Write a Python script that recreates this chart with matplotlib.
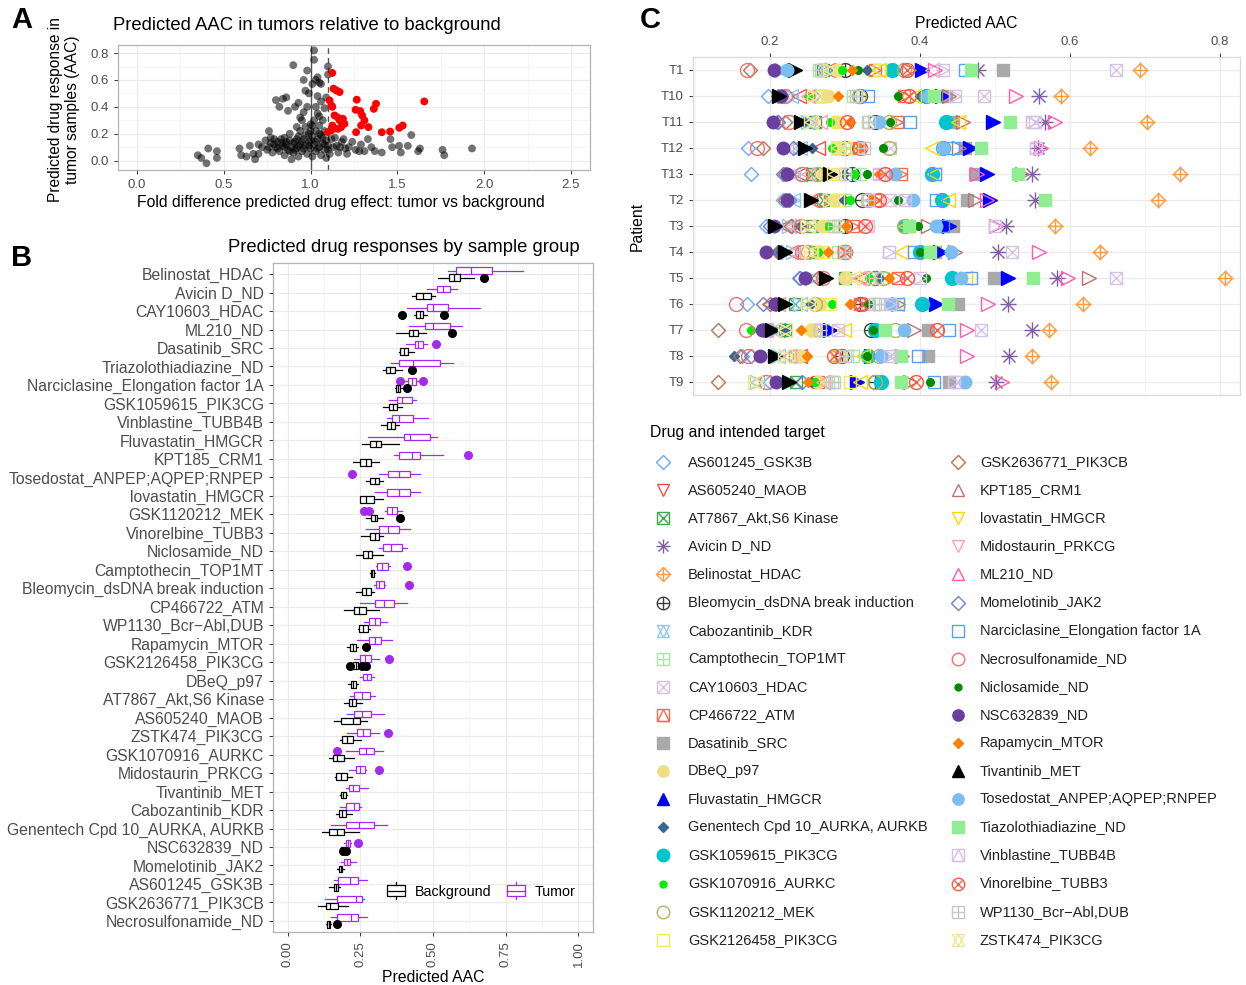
import numpy as np
import matplotlib
matplotlib.use("Agg")
import matplotlib.pyplot as plt
from matplotlib.legend_handler import HandlerBase
from matplotlib.patches import Rectangle
from matplotlib.lines import Line2D

plt.rcParams["font.family"] = ["Liberation Sans", "DejaVu Sans"]

W, H = 1246, 985
TICK = "#4d4d4d"
GRID = "#ebebeb"
PURPLE = "#a52af0"

# ---------------- panel A data: (fold difference, tumor AAC) ----------------
a_gray_x = [0.35, 0.37, 0.40, 0.41, 0.46, 0.46, 0.59, 0.60, 0.63, 0.65, 0.67, 0.68, 0.70, 0.70,
            0.72, 0.74, 0.75, 0.76, 0.77, 0.78, 0.79, 0.80, 0.80, 0.81, 0.82, 0.83, 0.84, 0.84,
            0.85, 0.85, 0.86, 0.86, 0.87, 0.87, 0.88, 0.88, 0.89, 0.89, 0.90, 0.90, 0.91, 0.91,
            0.92, 0.92, 0.93, 0.93, 0.94, 0.94, 0.95, 0.95, 0.96, 0.96, 0.97, 0.97, 0.97, 0.98,
            0.98, 0.98, 0.99, 0.99, 1.00, 1.00, 1.01, 1.01, 1.02, 1.02, 1.02, 1.02, 1.03, 1.03,
            1.03, 1.04, 1.04, 1.04, 1.05, 1.05, 1.05, 1.06, 1.06, 1.06, 1.06, 1.07, 1.07, 1.08,
            1.08, 1.08, 1.09, 1.09, 1.09, 1.10, 1.10, 1.10, 1.11, 1.12, 1.13, 1.14, 1.15, 1.16,
            1.17, 1.18, 1.19, 1.20, 1.21, 1.22, 1.24, 1.26, 1.28, 1.29, 1.31, 1.33, 1.35, 1.37,
            1.41, 1.46, 1.47, 1.51, 1.52, 1.56, 1.58, 1.62, 1.63, 1.76, 1.77, 1.93,
            0.85, 0.86, 0.88, 0.90, 0.91, 0.92, 0.93, 0.95, 0.96, 0.97, 0.99, 1.00, 1.00, 1.01,
            1.03, 1.04, 1.05, 1.07, 1.08, 1.10, 0.76, 0.79, 0.81, 0.83, 0.77, 0.82, 0.94, 0.96,
            1.03, 1.05, 0.99, 0.93, 1.01, 1.04]
a_gray_y = [0.04, 0.02, -0.02, 0.09, 0.07, 0.02, 0.09, 0.04, 0.03, 0.11, 0.05, 0.01, 0.05, 0.12,
            0.10, 0.15, 0.08, 0.22, 0.13, 0.06, 0.16, 0.45, 0.10, 0.14, 0.07, 0.16, 0.46, 0.11,
            0.17, 0.04, 0.47, 0.12, 0.37, 0.08, 0.15, 0.20, 0.10, 0.01, 0.71, 0.06, 0.40, 0.14,
            0.25, 0.09, 0.18, 0.03, 0.12, 0.22, 0.07, 0.30, 0.60, 0.16, 0.52, 0.11, 0.25, 0.67,
            0.40, 0.05, 0.20, 0.14, 0.27, 0.09, 0.18, 0.03, 0.82, 0.75, 0.12, 0.30, 0.60, 0.22,
            0.07, 0.48, 0.16, 0.35, 0.58, 0.10, 0.26, 0.57, 0.44, 0.04, 0.19, 0.30, 0.13, 0.39,
            0.08, 0.22, 0.47, 0.15, 0.02, 0.70, 0.64, 0.11, 0.05, 0.16, 0.10, 0.17, 0.11, 0.06,
            0.10, 0.14, 0.16, 0.09, 0.05, 0.10, 0.14, 0.08, 0.07, 0.12, 0.07, 0.16, 0.10, 0.07,
            0.06, 0.16, 0.10, 0.11, 0.06, 0.11, 0.19, 0.07, 0.09, 0.08, 0.04, 0.09,
            0.10, 0.14, 0.07, 0.13, 0.08, 0.16, 0.11, 0.14, 0.09, 0.19, 0.11, 0.15, 0.22, 0.26,
            0.14, 0.09, 0.20, 0.17, 0.12, 0.08, 0.10, 0.12, 0.09, 0.13, 0.17, 0.40, 0.32, 0.36,
            0.40, 0.33, 0.50, 0.43, 0.57, 0.62]
a_red_x = [1.125, 1.132, 1.148, 1.167, 1.109, 1.119, 1.125, 1.138, 1.157, 1.167, 1.186, 1.195,
           1.176, 1.157, 1.125, 1.100, 1.119, 1.266, 1.259, 1.286, 1.297, 1.310, 1.291, 1.262,
           1.333, 1.364, 1.377, 1.410, 1.458, 1.511, 1.531, 1.655]
a_red_y = [0.652, 0.535, 0.522, 0.510, 0.448, 0.410, 0.400, 0.336, 0.320, 0.300, 0.311, 0.274,
           0.249, 0.236, 0.261, 0.211, 0.224, 0.453, 0.378, 0.368, 0.336, 0.299, 0.261, 0.211,
           0.249, 0.385, 0.423, 0.211, 0.216, 0.244, 0.261, 0.440]

# ---------------- panel B data: boxplot statistics per drug ----------------
b_drugs = ["Belinostat_HDAC", "Avicin D_ND", "CAY10603_HDAC", "ML210_ND", "Dasatinib_SRC",
           "Triazolothiadiazine_ND", "Narciclasine_Elongation factor 1A", "GSK1059615_PIK3CG",
           "Vinblastine_TUBB4B", "Fluvastatin_HMGCR", "KPT185_CRM1",
           "Tosedostat_ANPEP;AQPEP;RNPEP", "lovastatin_HMGCR", "GSK1120212_MEK",
           "Vinorelbine_TUBB3", "Niclosamide_ND", "Camptothecin_TOP1MT",
           "Bleomycin_dsDNA break induction", "CP466722_ATM", "WP1130_Bcr\u2212Abl,DUB",
           "Rapamycin_MTOR", "GSK2126458_PIK3CG", "DBeQ_p97", "AT7867_Akt,S6 Kinase",
           "AS605240_MAOB", "ZSTK474_PIK3CG", "GSK1070916_AURKC", "Midostaurin_PRKCG",
           "Tivantinib_MET", "Cabozantinib_KDR", "Genentech Cpd 10_AURKA, AURKB",
           "NSC632839_ND", "Momelotinib_JAK2", "AS601245_GSK3B", "GSK2636771_PIK3CB",
           "Necrosulfonamide_ND"]

# tumor: q1, median, q3, lower whisker, upper whisker, outliers
t_q1 = [0.579, 0.513, 0.478, 0.474, 0.437, 0.382, 0.414, 0.375, 0.358, 0.399, 0.382, 0.345,
        0.342, 0.342, 0.316, 0.329, 0.309, 0.303, 0.300, 0.279, 0.279, 0.250, 0.259, 0.230,
        0.230, 0.239, 0.247, 0.237, 0.211, 0.201, 0.201, 0.201, 0.195, 0.174, 0.171, 0.171]
t_med = [0.629, 0.536, 0.500, 0.500, 0.450, 0.432, 0.428, 0.395, 0.382, 0.421, 0.428, 0.382,
         0.382, 0.358, 0.345, 0.355, 0.326, 0.316, 0.333, 0.300, 0.300, 0.266, 0.272, 0.257,
         0.257, 0.259, 0.270, 0.250, 0.224, 0.230, 0.246, 0.208, 0.204, 0.213, 0.234, 0.217]
t_q3 = [0.704, 0.559, 0.553, 0.559, 0.464, 0.524, 0.441, 0.428, 0.432, 0.491, 0.457, 0.421,
        0.421, 0.375, 0.382, 0.395, 0.346, 0.333, 0.366, 0.318, 0.320, 0.287, 0.286, 0.283,
        0.286, 0.283, 0.296, 0.267, 0.246, 0.246, 0.296, 0.214, 0.214, 0.241, 0.257, 0.241]
t_lo = [0.553, 0.480, 0.411, 0.418, 0.408, 0.355, 0.401, 0.349, 0.342, 0.276, 0.366, 0.316,
        0.300, 0.336, 0.270, 0.316, 0.303, 0.296, 0.250, 0.263, 0.239, 0.230, 0.250, 0.213,
        0.204, 0.204, 0.200, 0.211, 0.201, 0.182, 0.151, 0.195, 0.184, 0.158, 0.129, 0.151]
t_hi = [0.809, 0.583, 0.662, 0.599, 0.480, 0.570, 0.454, 0.441, 0.484, 0.513, 0.536, 0.457,
        0.457, 0.395, 0.421, 0.412, 0.353, 0.336, 0.411, 0.342, 0.358, 0.316, 0.296, 0.299,
        0.333, 0.316, 0.329, 0.270, 0.276, 0.254, 0.342, 0.217, 0.234, 0.272, 0.263, 0.272]
t_out = [[], [], [], [], [0.511], [], [0.386, 0.467], [], [], [], [0.622], [0.221], [],
         [0.263, 0.280], [], [], [0.412], [0.418], [], [], [], [0.349], [], [], [], [0.345],
         [0.171], [0.316], [], [], [], [0.243], [], [], [], []]

# background
g_q1 = [0.555, 0.441, 0.441, 0.418, 0.388, 0.339, 0.372, 0.349, 0.342, 0.283, 0.250, 0.283,
        0.250, 0.287, 0.283, 0.261, 0.287, 0.257, 0.230, 0.246, 0.214, 0.224, 0.217, 0.211,
        0.184, 0.188, 0.155, 0.168, 0.184, 0.178, 0.142, 0.184, 0.178, 0.158, 0.132, 0.134]
g_med = [0.572, 0.467, 0.454, 0.432, 0.401, 0.353, 0.380, 0.362, 0.355, 0.303, 0.270, 0.299,
         0.270, 0.299, 0.299, 0.276, 0.292, 0.270, 0.247, 0.261, 0.224, 0.234, 0.226, 0.221,
         0.224, 0.204, 0.171, 0.184, 0.192, 0.188, 0.171, 0.195, 0.183, 0.166, 0.147, 0.141]
g_q3 = [0.592, 0.493, 0.467, 0.447, 0.414, 0.368, 0.388, 0.375, 0.368, 0.322, 0.287, 0.316,
        0.296, 0.309, 0.316, 0.292, 0.297, 0.287, 0.270, 0.276, 0.234, 0.243, 0.237, 0.237,
        0.250, 0.224, 0.193, 0.204, 0.200, 0.201, 0.193, 0.207, 0.188, 0.175, 0.174, 0.147]
g_lo = [0.517, 0.428, 0.434, 0.372, 0.382, 0.329, 0.370, 0.329, 0.320, 0.257, 0.226, 0.270,
        0.250, 0.270, 0.254, 0.237, 0.284, 0.234, 0.193, 0.241, 0.204, 0.220, 0.208, 0.195,
        0.161, 0.182, 0.141, 0.162, 0.182, 0.167, 0.118, 0.182, 0.171, 0.141, 0.105, 0.132]
g_hi = [0.642, 0.507, 0.480, 0.476, 0.434, 0.395, 0.395, 0.395, 0.382, 0.382, 0.316, 0.329,
        0.329, 0.329, 0.329, 0.329, 0.300, 0.296, 0.313, 0.283, 0.243, 0.250, 0.243, 0.257,
        0.274, 0.253, 0.230, 0.221, 0.204, 0.221, 0.246, 0.210, 0.193, 0.180, 0.208, 0.151]
g_out = [[0.675], [], [0.392, 0.539], [0.566], [], [0.428], [0.412], [], [], [], [], [], [],
         [0.386], [], [], [], [], [], [], [0.270], [0.214, 0.257, 0.270], [], [], [], [], [],
         [], [], [], [], [0.191, 0.200], [], [], [], [0.171]]

# ---------------- panel C data: predicted AAC per patient and drug ----------------
c_drugs = ["AS601245_GSK3B", "AS605240_MAOB", "AT7867_Akt,S6 Kinase", "Avicin D_ND",
           "Belinostat_HDAC", "Bleomycin_dsDNA break induction", "Cabozantinib_KDR",
           "Camptothecin_TOP1MT", "CAY10603_HDAC", "CP466722_ATM", "Dasatinib_SRC", "DBeQ_p97",
           "Fluvastatin_HMGCR", "Genentech Cpd 10_AURKA, AURKB", "GSK1059615_PIK3CG",
           "GSK1070916_AURKC", "GSK1120212_MEK", "GSK2126458_PIK3CG", "GSK2636771_PIK3CB",
           "KPT185_CRM1", "lovastatin_HMGCR", "Midostaurin_PRKCG", "ML210_ND", "Momelotinib_JAK2",
           "Narciclasine_Elongation factor 1A", "Necrosulfonamide_ND", "Niclosamide_ND",
           "NSC632839_ND", "Rapamycin_MTOR", "Tivantinib_MET", "Tosedostat_ANPEP;AQPEP;RNPEP",
           "Tiazolothiadiazine_ND", "Vinblastine_TUBB4B", "Vinorelbine_TUBB3",
           "WP1130_Bcr\u2212Abl,DUB", "ZSTK474_PIK3CG"]
c_colors = ["#6fa8f5", "#f0504a", "#3ca84a", "#7d5ba6", "#ff9a3c", "#404040", "#8ec9f0",
            "#a6e6a6", "#d6c2e6", "#fa6a4a", "#a9a9a9", "#eedd82", "#0000ff", "#3a6591",
            "#00c5cd", "#00ee00", "#b5b35c", "#f5e65a", "#b07850", "#c07070", "#ffd700",
            "#ffa0b4", "#ff5ab4", "#6a7fe0", "#5aa0f0", "#f07070", "#008b00", "#6b3fa0",
            "#ff7f00", "#000000", "#7cbef0", "#90ee90", "#d8bfe8", "#fa5a40", "#c8c8c8",
            "#f0e68c"]
c_shapes = ["diamond", "tri_down", "square_x", "asterisk", "diamond_plus", "circle_plus",
            "star", "square_plus", "square_x", "square_tri", "square_f", "circle_f",
            "tri_f", "diamond_f", "circle_F", "dot", "circle", "square", "diamond", "tri_up",
            "tri_down", "tri_down", "tri_up", "diamond", "square", "circle", "dot",
            "circle_f", "diamond_f", "tri_f", "circle_f", "square_f", "square_tri",
            "circle_x", "square_plus", "star"]
patients = ["T1", "T10", "T11", "T12", "T13", "T2", "T3", "T4", "T5", "T6", "T7", "T8", "T9"]
c_vals = [
    [0.207, 0.277, 0.270, 0.478, 0.693, 0.300, 0.215, 0.265, 0.662, 0.340, 0.511, 0.290, 0.403, 0.329, 0.362, 0.296, 0.379, 0.345, 0.173, 0.385, 0.345, 0.416, 0.420, 0.273, 0.460, 0.169, 0.317, 0.205, 0.309, 0.233, 0.223, 0.468, 0.431, 0.382, 0.268, 0.280],
    [0.197, 0.238, 0.267, 0.559, 0.588, 0.320, 0.228, 0.310, 0.486, 0.379, 0.434, 0.277, 0.429, 0.400, 0.408, 0.251, 0.319, 0.265, 0.210, 0.439, 0.392, 0.250, 0.528, 0.215, 0.330, 0.220, 0.371, 0.215, 0.290, 0.212, 0.410, 0.418, 0.447, 0.385, 0.314, 0.259],
    [0.209, 0.250, 0.260, 0.567, 0.703, 0.340, 0.250, 0.330, 0.554, 0.369, 0.444, 0.288, 0.497, 0.245, 0.434, 0.280, 0.358, 0.290, 0.220, 0.457, 0.450, 0.267, 0.580, 0.210, 0.387, 0.225, 0.360, 0.204, 0.306, 0.241, 0.345, 0.520, 0.550, 0.303, 0.332, 0.255],
    [0.170, 0.264, 0.290, 0.557, 0.627, 0.300, 0.240, 0.298, 0.360, 0.318, 0.460, 0.288, 0.467, 0.256, 0.431, 0.283, 0.358, 0.300, 0.190, 0.452, 0.416, 0.230, 0.562, 0.230, 0.444, 0.183, 0.350, 0.217, 0.320, 0.246, 0.430, 0.481, 0.555, 0.320, 0.325, 0.290],
    [0.175, 0.240, 0.256, 0.549, 0.747, 0.309, 0.230, 0.320, 0.350, 0.374, 0.473, 0.270, 0.489, 0.298, 0.416, 0.312, 0.264, 0.290, 0.220, 0.536, 0.418, 0.250, 0.476, 0.217, 0.420, 0.243, 0.329, 0.222, 0.345, 0.280, 0.366, 0.531, 0.345, 0.353, 0.300, 0.285],
    [0.217, 0.262, 0.270, 0.554, 0.718, 0.322, 0.230, 0.300, 0.360, 0.340, 0.463, 0.285, 0.494, 0.298, 0.429, 0.306, 0.330, 0.290, 0.220, 0.473, 0.437, 0.255, 0.489, 0.225, 0.421, 0.267, 0.371, 0.222, 0.335, 0.254, 0.390, 0.567, 0.380, 0.345, 0.330, 0.280],
    [0.194, 0.220, 0.256, 0.515, 0.580, 0.300, 0.225, 0.290, 0.330, 0.310, 0.444, 0.269, 0.439, 0.240, 0.380, 0.277, 0.379, 0.280, 0.228, 0.410, 0.380, 0.230, 0.502, 0.200, 0.430, 0.241, 0.397, 0.205, 0.301, 0.207, 0.421, 0.385, 0.500, 0.326, 0.285, 0.250],
    [0.210, 0.228, 0.260, 0.504, 0.640, 0.300, 0.230, 0.290, 0.523, 0.298, 0.420, 0.265, 0.426, 0.209, 0.400, 0.264, 0.250, 0.270, 0.210, 0.447, 0.374, 0.230, 0.559, 0.215, 0.392, 0.243, 0.400, 0.194, 0.277, 0.220, 0.441, 0.413, 0.358, 0.300, 0.300, 0.255],
    [0.238, 0.322, 0.300, 0.583, 0.807, 0.340, 0.256, 0.350, 0.661, 0.370, 0.499, 0.300, 0.517, 0.345, 0.442, 0.332, 0.350, 0.330, 0.264, 0.625, 0.460, 0.319, 0.598, 0.240, 0.468, 0.270, 0.408, 0.246, 0.358, 0.275, 0.455, 0.551, 0.400, 0.382, 0.340, 0.310],
    [0.169, 0.199, 0.233, 0.517, 0.617, 0.320, 0.240, 0.345, 0.330, 0.320, 0.450, 0.267, 0.421, 0.254, 0.403, 0.283, 0.260, 0.280, 0.200, 0.370, 0.369, 0.210, 0.491, 0.190, 0.370, 0.155, 0.331, 0.207, 0.306, 0.220, 0.363, 0.437, 0.360, 0.322, 0.340, 0.250],
    [0.200, 0.210, 0.220, 0.550, 0.572, 0.335, 0.205, 0.270, 0.481, 0.260, 0.410, 0.254, 0.280, 0.220, 0.340, 0.175, 0.366, 0.260, 0.131, 0.392, 0.298, 0.195, 0.463, 0.190, 0.439, 0.168, 0.337, 0.189, 0.241, 0.202, 0.379, 0.353, 0.290, 0.423, 0.267, 0.220],
    [0.162, 0.240, 0.233, 0.519, 0.549, 0.296, 0.210, 0.311, 0.360, 0.290, 0.410, 0.240, 0.335, 0.152, 0.330, 0.202, 0.345, 0.290, 0.160, 0.376, 0.324, 0.225, 0.463, 0.175, 0.397, 0.170, 0.329, 0.186, 0.249, 0.207, 0.348, 0.375, 0.360, 0.285, 0.300, 0.220],
    [0.200, 0.270, 0.235, 0.502, 0.575, 0.340, 0.183, 0.285, 0.450, 0.264, 0.439, 0.264, 0.316, 0.255, 0.348, 0.260, 0.340, 0.306, 0.131, 0.387, 0.320, 0.270, 0.510, 0.243, 0.418, 0.194, 0.413, 0.208, 0.251, 0.225, 0.460, 0.374, 0.445, 0.395, 0.283, 0.180],
]

# composite marker definitions (ggplot-like shapes): (marker, filled, size factor)
SHAPES = {
    "diamond": [("D", False, 0.75)],
    "circle": [("o", False, 1.0)],
    "square": [("s", False, 0.9)],
    "tri_up": [("^", False, 1.0)],
    "tri_down": [("v", False, 1.0)],
    "square_x": [("s", False, 0.9), ("x", False, 0.85)],
    "asterisk": [("+", False, 1.15), ("x", False, 0.85)],
    "diamond_plus": [("D", False, 0.75), ("+", False, 1.1)],
    "circle_plus": [("o", False, 1.0), ("+", False, 1.0)],
    "star": [("^", False, 1.0), ("v", False, 1.0)],
    "square_plus": [("s", False, 0.9), ("+", False, 0.95)],
    "circle_x": [("o", False, 1.0), ("x", False, 0.7)],
    "square_tri": [("s", False, 0.9), ("^", False, 0.9)],
    "square_f": [("s", True, 0.9)],
    "circle_f": [("o", True, 0.9)],
    "tri_f": [("^", True, 1.0)],
    "diamond_f": [("D", True, 0.55)],
    "circle_F": [("o", True, 1.0)],
    "dot": [("o", True, 0.55)],
}
ROTATE = {"^": ">", "v": "<"}


def draw_shape(ax, x, y, shape, color, size, rotate=False, zorder=3):
    for m, filled, k in SHAPES[shape]:
        if rotate:
            m = ROTATE.get(m, m)
        ax.plot(x, y, ls="none", marker=m, ms=size * k, mec=color,
                mfc=color if filled else "none", mew=1.0, zorder=zorder)


def frac(l, t, r, b):
    return [l / W, 1 - b / H, (r - l) / W, (b - t) / H]


def style_bw(ax, edge="#b3b3b3"):
    for s in ax.spines.values():
        s.set_color(edge)
        s.set_linewidth(0.9)
    ax.tick_params(colors="#333333", labelcolor=TICK, length=3, width=0.7)
    ax.grid(True, which="major", color=GRID, lw=0.9)
    ax.grid(True, which="minor", color="#f4f4f4", lw=0.6)
    ax.set_axisbelow(True)


fig = plt.figure(figsize=(W / 100, H / 100), dpi=100)

# ================= Panel A =================
axA = fig.add_axes(frac(118, 45, 590, 170))
axA.scatter(a_gray_x, a_gray_y, s=32, c="black", alpha=0.55, edgecolors="none", zorder=3)
axA.scatter(a_red_x, a_red_y, s=32, c="red", edgecolors="none", zorder=4)
axA.axvline(1.0, color="#555555", lw=1.0, zorder=2)
axA.axvline(1.1, color="#555555", lw=1.0, ls=(0, (4, 3)), zorder=2)
axA.set_xlim(-0.11, 2.61)
axA.set_ylim(-0.07, 0.86)
axA.set_xticks([0, 0.5, 1.0, 1.5, 2.0, 2.5])
axA.set_xticks([0.25, 0.75, 1.25, 1.75, 2.25], minor=True)
axA.set_yticks([0, 0.2, 0.4, 0.6, 0.8])
axA.set_yticks([0.1, 0.3, 0.5, 0.7], minor=True)
axA.tick_params(which="minor", length=0)
style_bw(axA)
axA.tick_params(labelsize=9.5)
axA.set_xlabel("Fold difference predicted drug effect: tumor vs background", fontsize=11.3)
axA.xaxis.set_label_coords(0.472, -0.2)
axA.set_ylabel("Predicted drug response in\ntumor samples (AAC)", fontsize=11.2)
axA.yaxis.set_label_coords(-0.08, 0.48)
fig.text(113 / W, 1 - 25 / H, "Predicted AAC in tumors relative to background",
         fontsize=13.3, va="center", ha="left")

# ================= Panel B =================
axB = fig.add_axes(frac(273, 263, 593, 932))
pos = np.arange(len(b_drugs))
t_stats = [dict(q1=t_q1[i], med=t_med[i], q3=t_q3[i], whislo=t_lo[i], whishi=t_hi[i],
                fliers=t_out[i]) for i in range(len(b_drugs))]
g_stats = [dict(q1=g_q1[i], med=g_med[i], q3=g_q3[i], whislo=g_lo[i], whishi=g_hi[i],
                fliers=g_out[i]) for i in range(len(b_drugs))]
for stats, offs, col in [(t_stats, -0.19, PURPLE), (g_stats, 0.19, "black")]:
    axB.bxp(stats, positions=pos + offs, widths=0.36, vert=False, showcaps=False,
            patch_artist=True,
            boxprops=dict(facecolor="white", edgecolor=col, lw=0.9),
            medianprops=dict(color=col, lw=0.9),
            whiskerprops=dict(color=col, lw=0.9),
            flierprops=dict(marker="o", mfc=col, mec=col, ms=5.5))
axB.set_ylim(len(b_drugs) - 0.4, -0.6)
axB.set_xlim(-0.05, 1.05)
axB.set_yticks(pos)
axB.set_yticklabels(b_drugs)
axB.set_xticks([0, 0.25, 0.5, 0.75, 1.0])
axB.set_xticklabels(["0.00", "0.25", "0.50", "0.75", "1.00"], rotation=90)
axB.set_xticks([0.125, 0.375, 0.625, 0.875], minor=True)
axB.tick_params(which="minor", length=0)
style_bw(axB)
axB.grid(False, axis="y", which="minor")
axB.tick_params(axis="y", labelsize=11.3)
axB.tick_params(axis="x", labelsize=9.5)
axB.set_xlabel("Predicted AAC", fontsize=11.3, labelpad=2)
fig.text(228 / W, 1 - 248 / H, "Predicted drug responses by sample group", fontsize=13.3,
         va="center", ha="left")


class BoxKey(HandlerBase):
    def __init__(self, color):
        super().__init__()
        self.color = color

    def create_artists(self, legend, orig, x0, y0, w, h, fontsize, trans):
        c = self.color
        xc = x0 + w / 2
        rect = Rectangle((x0 + 0.1 * w, y0 - 0.05 * h), 0.8 * w, 1.1 * h, fc="white",
                         ec=c, lw=0.9, transform=trans)
        med = Line2D([x0 + 0.1 * w, x0 + 0.9 * w], [y0 + h / 2] * 2, color=c, lw=0.9,
                     transform=trans)
        w1 = Line2D([xc, xc], [y0 + 1.05 * h, y0 + 1.35 * h], color=c, lw=0.9, transform=trans)
        w2 = Line2D([xc, xc], [y0 - 0.05 * h, y0 - 0.35 * h], color=c, lw=0.9, transform=trans)
        return [rect, med, w1, w2]


hb = Line2D([], [])
ht = Line2D([], [])
axB.legend([hb, ht], ["Background", "Tumor"], handler_map={hb: BoxKey("black"),
                                                          ht: BoxKey(PURPLE)},
           loc="center right", bbox_to_anchor=(0.985, 0.06), ncol=2, frameon=False,
           fontsize=10.3, handlelength=1.6, handletextpad=0.5, columnspacing=0.9)

# ================= Panel C =================
axC = fig.add_axes(frac(693, 57, 1240, 395))
for j, drug in enumerate(c_drugs):
    xs = [c_vals[i][j] for i in range(len(patients))]
    ys = list(range(len(patients)))
    draw_shape(axC, xs, ys, c_shapes[j], c_colors[j], 10, rotate=True, zorder=3 + j * 0.01)
axC.set_xlim(0.097, 0.827)
axC.set_ylim(len(patients) - 0.5, -0.5)
axC.set_yticks(range(len(patients)))
axC.set_yticklabels(patients)
axC.set_xticks([0.2, 0.4, 0.6, 0.8])
axC.set_xticks([0.1, 0.3, 0.5, 0.7], minor=True)
axC.xaxis.tick_top()
axC.xaxis.set_label_position("top")
axC.tick_params(which="minor", length=0)
style_bw(axC, edge="#d9d9d9")
axC.tick_params(labelsize=9.5)
axC.set_xlabel("Predicted AAC", fontsize=11.3, labelpad=6)
axC.set_ylabel("Patient", fontsize=11.3, labelpad=12)

# legend for panel C, two columns of 18 entries
axL = fig.add_axes(frac(640, 445, 1246, 955))
axL.set_xlim(640, 1246)
axL.set_ylim(955, 445)
axL.axis("off")
axL.text(650, 433, "Drug and intended target", fontsize=11.3, va="center",
         ha="left", clip_on=False)
col_mark = [663, 958]
col_text = [688, 980]
nrow = 18
for j, drug in enumerate(c_drugs):
    col, row = divmod(j, nrow)
    yy = 462 + row * 28.1
    draw_shape(axL, [col_mark[col]], [yy], c_shapes[j], c_colors[j], 9)
    axL.text(col_text[col], yy, drug, fontsize=10.5, va="center", ha="left", color="#222222")

# panel letters
for lab, x, y in [("A", 11, 20), ("B", 11, 258), ("C", 640, 20)]:
    fig.text(x / W, 1 - y / H, lab, fontsize=21, fontweight="bold", va="center", ha="left")

fig.savefig("out.png", dpi=100)
